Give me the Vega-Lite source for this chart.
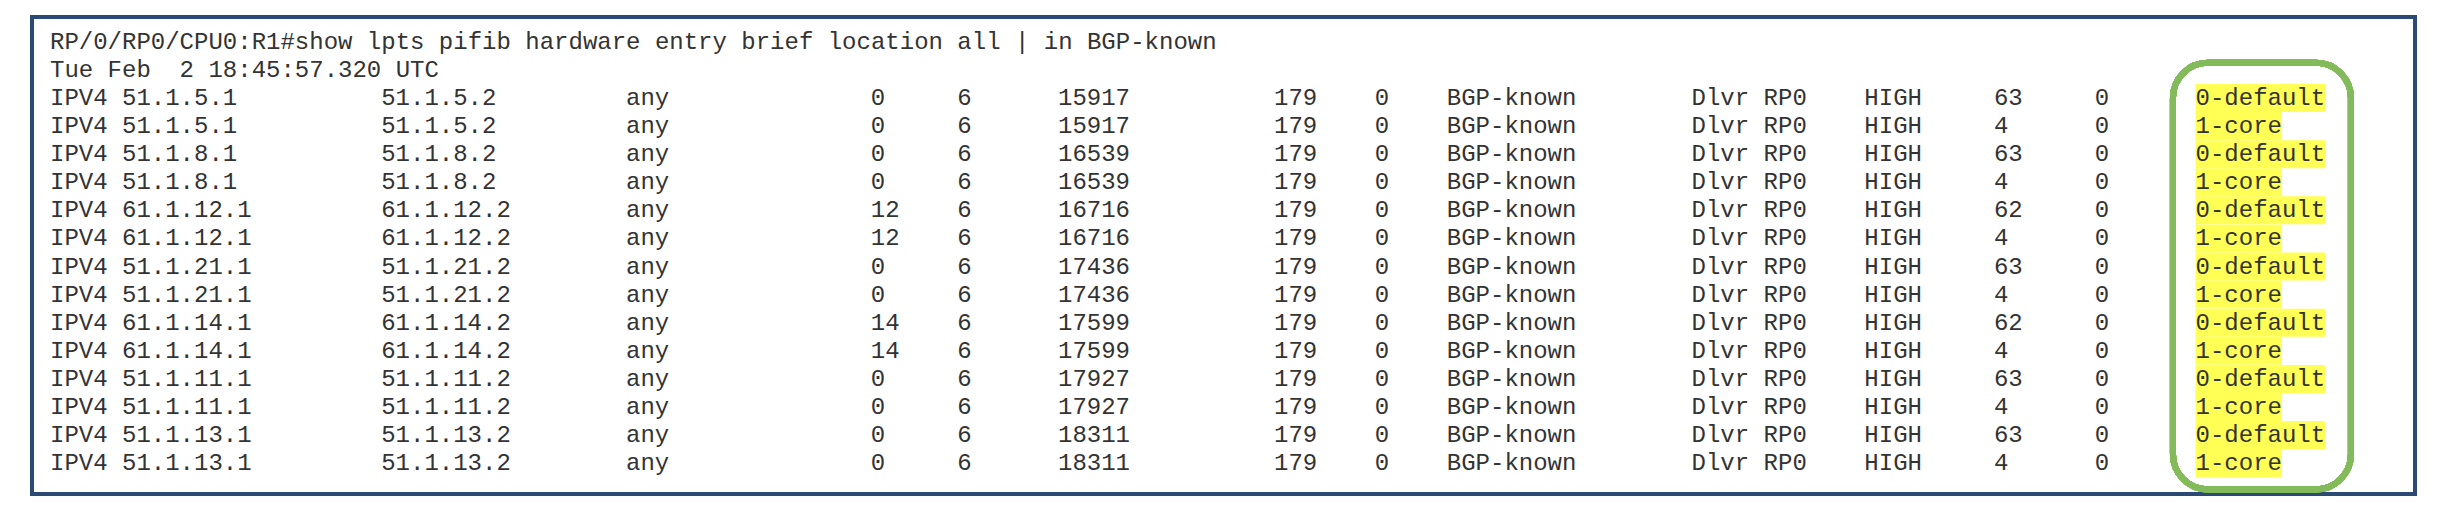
{
  "$schema": "https://vega.github.io/schema/vega-lite/v6.json",
  "width": 2450,
  "height": 514,
  "autosize": {"type": "fit", "contains": "padding"},
  "padding": 0,
  "background": "white",
  "data": {
    "values": [
      {"line": 2, "src": "IPV4 51.1.5.1", "dst": "51.1.5.2", "iface": "any", "lp": "0", "pr": "6", "ifib": "15917", "port": "179", "z1": "0", "flow": "BGP-known", "dest": "Dlvr RP0", "pri": "HIGH", "rate": "63", "z2": "0", "tag": "0-default"},
      {"line": 3, "src": "IPV4 51.1.5.1", "dst": "51.1.5.2", "iface": "any", "lp": "0", "pr": "6", "ifib": "15917", "port": "179", "z1": "0", "flow": "BGP-known", "dest": "Dlvr RP0", "pri": "HIGH", "rate": "4", "z2": "0", "tag": "1-core"},
      {"line": 4, "src": "IPV4 51.1.8.1", "dst": "51.1.8.2", "iface": "any", "lp": "0", "pr": "6", "ifib": "16539", "port": "179", "z1": "0", "flow": "BGP-known", "dest": "Dlvr RP0", "pri": "HIGH", "rate": "63", "z2": "0", "tag": "0-default"},
      {"line": 5, "src": "IPV4 51.1.8.1", "dst": "51.1.8.2", "iface": "any", "lp": "0", "pr": "6", "ifib": "16539", "port": "179", "z1": "0", "flow": "BGP-known", "dest": "Dlvr RP0", "pri": "HIGH", "rate": "4", "z2": "0", "tag": "1-core"},
      {"line": 6, "src": "IPV4 61.1.12.1", "dst": "61.1.12.2", "iface": "any", "lp": "12", "pr": "6", "ifib": "16716", "port": "179", "z1": "0", "flow": "BGP-known", "dest": "Dlvr RP0", "pri": "HIGH", "rate": "62", "z2": "0", "tag": "0-default"},
      {"line": 7, "src": "IPV4 61.1.12.1", "dst": "61.1.12.2", "iface": "any", "lp": "12", "pr": "6", "ifib": "16716", "port": "179", "z1": "0", "flow": "BGP-known", "dest": "Dlvr RP0", "pri": "HIGH", "rate": "4", "z2": "0", "tag": "1-core"},
      {"line": 8, "src": "IPV4 51.1.21.1", "dst": "51.1.21.2", "iface": "any", "lp": "0", "pr": "6", "ifib": "17436", "port": "179", "z1": "0", "flow": "BGP-known", "dest": "Dlvr RP0", "pri": "HIGH", "rate": "63", "z2": "0", "tag": "0-default"},
      {"line": 9, "src": "IPV4 51.1.21.1", "dst": "51.1.21.2", "iface": "any", "lp": "0", "pr": "6", "ifib": "17436", "port": "179", "z1": "0", "flow": "BGP-known", "dest": "Dlvr RP0", "pri": "HIGH", "rate": "4", "z2": "0", "tag": "1-core"},
      {"line": 10, "src": "IPV4 61.1.14.1", "dst": "61.1.14.2", "iface": "any", "lp": "14", "pr": "6", "ifib": "17599", "port": "179", "z1": "0", "flow": "BGP-known", "dest": "Dlvr RP0", "pri": "HIGH", "rate": "62", "z2": "0", "tag": "0-default"},
      {"line": 11, "src": "IPV4 61.1.14.1", "dst": "61.1.14.2", "iface": "any", "lp": "14", "pr": "6", "ifib": "17599", "port": "179", "z1": "0", "flow": "BGP-known", "dest": "Dlvr RP0", "pri": "HIGH", "rate": "4", "z2": "0", "tag": "1-core"},
      {"line": 12, "src": "IPV4 51.1.11.1", "dst": "51.1.11.2", "iface": "any", "lp": "0", "pr": "6", "ifib": "17927", "port": "179", "z1": "0", "flow": "BGP-known", "dest": "Dlvr RP0", "pri": "HIGH", "rate": "63", "z2": "0", "tag": "0-default"},
      {"line": 13, "src": "IPV4 51.1.11.1", "dst": "51.1.11.2", "iface": "any", "lp": "0", "pr": "6", "ifib": "17927", "port": "179", "z1": "0", "flow": "BGP-known", "dest": "Dlvr RP0", "pri": "HIGH", "rate": "4", "z2": "0", "tag": "1-core"},
      {"line": 14, "src": "IPV4 51.1.13.1", "dst": "51.1.13.2", "iface": "any", "lp": "0", "pr": "6", "ifib": "18311", "port": "179", "z1": "0", "flow": "BGP-known", "dest": "Dlvr RP0", "pri": "HIGH", "rate": "63", "z2": "0", "tag": "0-default"},
      {"line": 15, "src": "IPV4 51.1.13.1", "dst": "51.1.13.2", "iface": "any", "lp": "0", "pr": "6", "ifib": "18311", "port": "179", "z1": "0", "flow": "BGP-known", "dest": "Dlvr RP0", "pri": "HIGH", "rate": "4", "z2": "0", "tag": "1-core"}
    ]
  },
  "encoding": {
    "y": {"field": "line", "type": "quantitative", "scale": {"domain": [-1.309, 16.632], "reverse": true, "nice": false, "zero": false}, "axis": null}
  },
  "layer": [
    {
      "mark": {"type": "rect", "fill": null, "stroke": "#2b4a74", "strokeWidth": 3},
      "encoding": {
        "x": {"datum": -1.25, "type": "quantitative", "scale": {"domain": [-3.472, 166.67], "nice": false, "zero": false}, "axis": null},
        "x2": {"datum": 164.24},
        "y": {"datum": -0.89, "type": "quantitative"},
        "y2": {"datum": 16.11}
      }
    },
    {
      "transform": [{"filter": "datum.tag == '0-default'"}],
      "mark": {"type": "bar", "color": "#ffff55", "height": 28, "orient": "horizontal"},
      "encoding": {"x": {"datum": 149, "type": "quantitative"}, "x2": {"datum": 158}}
    },
    {
      "transform": [{"filter": "datum.tag == '1-core'"}],
      "mark": {"type": "bar", "color": "#ffff55", "height": 28, "orient": "horizontal"},
      "encoding": {"x": {"datum": 149, "type": "quantitative"}, "x2": {"datum": 155}}
    },
    {
      "mark": {"type": "rect", "fill": null, "stroke": "#84bb5a", "strokeWidth": 6, "cornerRadius": 35},
      "encoding": {
        "x": {"datum": 147.43, "type": "quantitative"},
        "x2": {"datum": 159.79},
        "y": {"datum": 0.75, "type": "quantitative"},
        "y2": {"datum": 15.93}
      }
    },
    {
      "data": {"values": [
        {"line": 0, "txt": "RP/0/RP0/CPU0:R1#show lpts pifib hardware entry brief location all | in BGP-known"},
        {"line": 1, "txt": "Tue Feb \u00a02 18:45:57.320 UTC"}
      ]},
      "mark": {"type": "text", "align": "left", "baseline": "middle", "font": "Liberation Mono", "fontSize": 24, "color": "#333333"},
      "encoding": {"x": {"datum": 0, "type": "quantitative"}, "text": {"field": "txt"}}
    },
    {"mark": {"type": "text", "align": "left", "baseline": "middle", "font": "Liberation Mono", "fontSize": 24, "color": "#333333"}, "encoding": {"x": {"datum": 0, "type": "quantitative"}, "text": {"field": "src"}}},
    {"mark": {"type": "text", "align": "left", "baseline": "middle", "font": "Liberation Mono", "fontSize": 24, "color": "#333333"}, "encoding": {"x": {"datum": 23, "type": "quantitative"}, "text": {"field": "dst"}}},
    {"mark": {"type": "text", "align": "left", "baseline": "middle", "font": "Liberation Mono", "fontSize": 24, "color": "#333333"}, "encoding": {"x": {"datum": 40, "type": "quantitative"}, "text": {"field": "iface"}}},
    {"mark": {"type": "text", "align": "left", "baseline": "middle", "font": "Liberation Mono", "fontSize": 24, "color": "#333333"}, "encoding": {"x": {"datum": 57, "type": "quantitative"}, "text": {"field": "lp"}}},
    {"mark": {"type": "text", "align": "left", "baseline": "middle", "font": "Liberation Mono", "fontSize": 24, "color": "#333333"}, "encoding": {"x": {"datum": 63, "type": "quantitative"}, "text": {"field": "pr"}}},
    {"mark": {"type": "text", "align": "left", "baseline": "middle", "font": "Liberation Mono", "fontSize": 24, "color": "#333333"}, "encoding": {"x": {"datum": 70, "type": "quantitative"}, "text": {"field": "ifib"}}},
    {"mark": {"type": "text", "align": "left", "baseline": "middle", "font": "Liberation Mono", "fontSize": 24, "color": "#333333"}, "encoding": {"x": {"datum": 85, "type": "quantitative"}, "text": {"field": "port"}}},
    {"mark": {"type": "text", "align": "left", "baseline": "middle", "font": "Liberation Mono", "fontSize": 24, "color": "#333333"}, "encoding": {"x": {"datum": 92, "type": "quantitative"}, "text": {"field": "z1"}}},
    {"mark": {"type": "text", "align": "left", "baseline": "middle", "font": "Liberation Mono", "fontSize": 24, "color": "#333333"}, "encoding": {"x": {"datum": 97, "type": "quantitative"}, "text": {"field": "flow"}}},
    {"mark": {"type": "text", "align": "left", "baseline": "middle", "font": "Liberation Mono", "fontSize": 24, "color": "#333333"}, "encoding": {"x": {"datum": 114, "type": "quantitative"}, "text": {"field": "dest"}}},
    {"mark": {"type": "text", "align": "left", "baseline": "middle", "font": "Liberation Mono", "fontSize": 24, "color": "#333333"}, "encoding": {"x": {"datum": 126, "type": "quantitative"}, "text": {"field": "pri"}}},
    {"mark": {"type": "text", "align": "left", "baseline": "middle", "font": "Liberation Mono", "fontSize": 24, "color": "#333333"}, "encoding": {"x": {"datum": 135, "type": "quantitative"}, "text": {"field": "rate"}}},
    {"mark": {"type": "text", "align": "left", "baseline": "middle", "font": "Liberation Mono", "fontSize": 24, "color": "#333333"}, "encoding": {"x": {"datum": 142, "type": "quantitative"}, "text": {"field": "z2"}}},
    {"mark": {"type": "text", "align": "left", "baseline": "middle", "font": "Liberation Mono", "fontSize": 24, "color": "#333333"}, "encoding": {"x": {"datum": 149, "type": "quantitative"}, "text": {"field": "tag"}}}
  ],
  "config": {"view": {"stroke": null}}
}
